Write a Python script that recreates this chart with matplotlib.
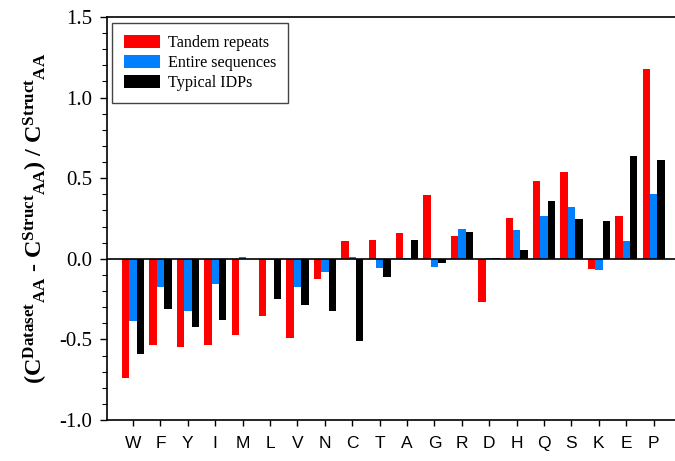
import numpy as np
import matplotlib
matplotlib.use("Agg")
import matplotlib.pyplot as plt
from matplotlib.ticker import MultipleLocator

# amino acids ordered along the x axis
residues = ["W", "F", "Y", "I", "M", "L", "V", "N", "C", "T",
            "A", "G", "R", "D", "H", "Q", "S", "K", "E", "P"]

# relative change of composition versus structured proteins
tandem = [-0.74, -0.536, -0.549, -0.532, -0.475, -0.357, -0.493, -0.128, 0.111, 0.118,
          0.161, 0.396, 0.142, -0.27, 0.254, 0.483, 0.538, -0.062, 0.266, 1.176]
entire = [-0.388, -0.178, -0.326, -0.159, 0.014, -0.01, -0.178, -0.079, 0.012, -0.054,
          0.005, -0.048, 0.186, 0.004, 0.18, 0.266, 0.322, -0.068, 0.111, 0.402]
idps = [-0.59, -0.31, -0.425, -0.38, 0.0, -0.252, -0.289, -0.326, -0.507, -0.11,
        0.118, -0.023, 0.167, 0.003, 0.056, 0.359, 0.248, 0.235, 0.637, 0.613]

series_names = ["Tandem repeats", "Entire sequences", "Typical IDPs"]

plt.rcParams["mathtext.fontset"] = "custom"
plt.rcParams["mathtext.rm"] = "Liberation Serif"
plt.rcParams["mathtext.bf"] = "Liberation Serif:bold"
plt.rcParams["mathtext.it"] = "Liberation Serif:italic"

fig = plt.figure(figsize=(6.75, 4.61), dpi=100)
ax = fig.add_axes([107 / 675, 1 - 420 / 461, 1 - 107 / 675, 403 / 461])

index = np.arange(len(residues))
width = 0.27
colors = ["#ff0000", "#0080ff", "#000000"]

for k, (vals, name) in enumerate(zip([tandem, entire, idps], series_names)):
    ax.bar(index + (k - 1) * width, vals, width, color=colors[k],
           label=name, linewidth=0, zorder=3)

ax.axhline(0, color="#000000", linewidth=1.2, zorder=4)

ax.set_xlim(-0.95, 19.78)
ax.set_ylim(-1.0, 1.5)
ax.yaxis.set_major_locator(MultipleLocator(0.5))
ax.yaxis.set_minor_locator(MultipleLocator(0.1))
ax.set_xticks(index)
ax.set_xticklabels(residues, fontfamily="Liberation Sans", fontsize=12.5)
ax.set_yticks([-1.0, -0.5, 0.0, 0.5, 1.0, 1.5])
ax.set_yticklabels(["-1.0", "-0.5", "0.0", "0.5", "1.0", "1.5"],
                   fontfamily="Liberation Serif", fontsize=15)

ax.tick_params(axis="y", which="major", direction="out", length=5, width=1, pad=5.5)
ax.tick_params(axis="y", which="minor", direction="out", length=3.5, width=0.8)
ax.tick_params(axis="x", which="major", direction="out", length=4.5, width=1, pad=7)
ax.spines["right"].set_visible(False)
for s in ["left", "top", "bottom"]:
    ax.spines[s].set_linewidth(1.2)

ax.set_ylabel(r"$\mathbf{(C^{Dataset}{}_{AA}\ \text{-}\ C^{Struct}{}_{AA})\ /\ C^{Struct}{}_{AA}}$",
              fontsize=17.5, labelpad=7)

leg = ax.legend(loc="upper left", bbox_to_anchor=(0.0088, 0.985), borderaxespad=0,
                prop={"family": "Liberation Serif", "size": 11.6},
                fancybox=False, edgecolor="#444444", framealpha=1,
                handlelength=2.2, handleheight=0.8, handletextpad=0.5,
                labelspacing=0.25, borderpad=0.75)
leg.get_frame().set_linewidth(1.0)

fig.savefig("out.png", dpi=100)
